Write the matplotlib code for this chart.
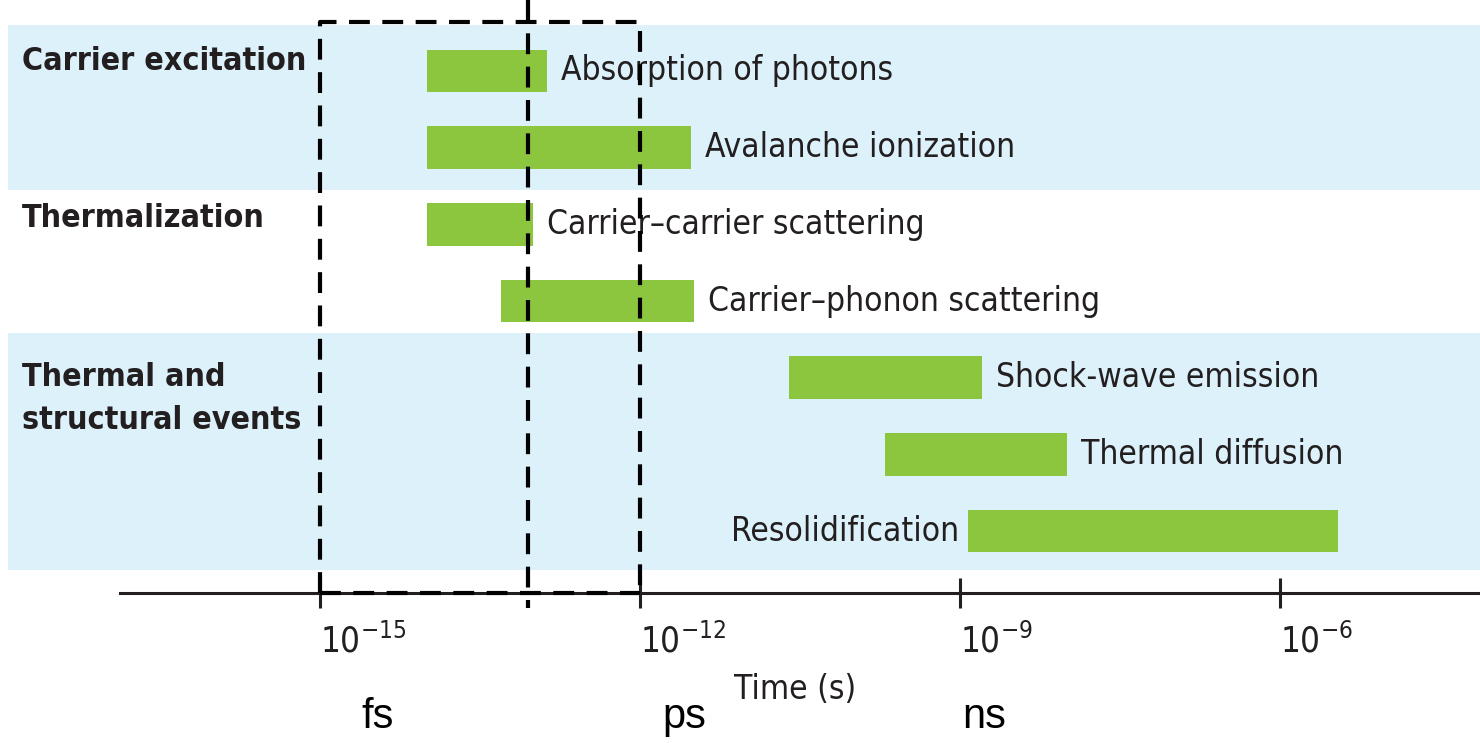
import numpy as np
import matplotlib
matplotlib.use('Agg')
import matplotlib.pyplot as plt

# data
processes = ['Absorption of photons', 'Avalanche ionization',
             'Carrier\u2013carrier scattering', 'Carrier\u2013phonon scattering',
             'Shock-wave emission', 'Thermal diffusion', 'Resolidification']
t_start = [1e-14, 1e-14, 1e-14, 5e-14, 2.5e-11, 2e-10, 1.2e-9]
t_end = [1.35e-13, 3e-12, 1e-13, 3.2e-12, 1.6e-9, 1e-8, 3.5e-6]
label_side = ['right', 'right', 'right', 'right', 'right', 'right', 'left']

groups = ['Carrier excitation', 'Thermalization', 'Thermal and\nstructural events']
group_rows = [-0.12, 1.92, 4.28]

tick_values = [1e-15, 1e-12, 1e-9, 1e-6]
unit_labels = ['fs', 'ps', 'ns']
unit_x = [10**-14.46, 10**-11.58, 10**-8.77]

plt.rcParams['font.family'] = ['DejaVu Sans']
plt.rcParams['font.stretch'] = 'condensed'
plt.rcParams['mathtext.fontset'] = 'custom'
plt.rcParams['mathtext.rm'] = 'DejaVu Sans:stretch=condensed'
plt.rcParams['mathtext.it'] = 'DejaVu Sans:style=oblique:stretch=condensed'
plt.rcParams['mathtext.bf'] = 'DejaVu Sans:weight=bold:stretch=condensed'

green = '#8cc63f'
band = '#dcf1fa'
ink = '#231f20'

fig = plt.figure(figsize=(14.8, 7.43), dpi=100)
ax = fig.add_axes([0, 0, 1, 1])
ax.set_xscale('log')
ax.set_xlim(1e-18, 10**-4.125)
ax.set_ylim(8.765, -0.926)

# background bands
ax.axhspan(-0.6, 1.55, xmin=8 / 1480, color=band, zorder=0, lw=0)
ax.axhspan(3.42, 6.51, xmin=8 / 1480, color=band, zorder=0, lw=0)

rows = np.arange(len(processes))
ax.barh(rows, np.array(t_end) - np.array(t_start), left=t_start,
        height=0.56, color=green, zorder=2)

for r, name, s, e, side in zip(rows, processes, t_start, t_end, label_side):
    if side == 'right':
        ax.annotate(name, (e, r), xytext=(10, 0), textcoords='offset points',
                    ha='left', va='center', fontsize=24, color=ink)
    else:
        ax.annotate(name, (s, r), xytext=(-7, 0), textcoords='offset points',
                    ha='right', va='center', fontsize=24, color=ink)

tr = ax.get_yaxis_transform()
for g, y in zip(groups, group_rows):
    ax.text(22 / 1480, y, g, transform=tr, ha='left', va='center',
            fontsize=23, fontweight='bold', color=ink, linespacing=1.5)

# dashed boxes
dash = dict(color='black', lw=3, dashes=(5, 3), zorder=3)
ax.plot([1e-15, 1e-15, 1e-12, 1e-12], [6.81, -0.64, -0.64, 6.81], **dash)
ax.plot([1e-15, 1e-12], [6.81, 6.81], **dash)
ax.plot([10**-13.05, 10**-13.05], [-0.926, 7.0], **dash)

# time axis
for side in ['top', 'left', 'right']:
    ax.spines[side].set_visible(False)
ax.spines['bottom'].set_position(('data', 6.81))
ax.spines['bottom'].set_bounds(10**-16.875, 10**-4.125)
ax.spines['bottom'].set_linewidth(2.2)
ax.spines['bottom'].set_color(ink)
ax.set_yticks([])
ax.set_xticks(tick_values)
ax.xaxis.set_minor_locator(matplotlib.ticker.NullLocator())
ax.tick_params(axis='x', direction='inout', length=21, width=2.2,
               color=ink, labelsize=25, labelcolor=ink, pad=11)
plt.setp(ax.get_xticklabels(), ha='left')

ax.text(10**-10.55, 8.07, 'Time (s)', ha='center', va='center',
        fontsize=24, color=ink)
for u, x in zip(unit_labels, unit_x):
    ax.text(x, 8.43, u, ha='center', va='center', fontsize=30,
            family=['Liberation Sans', 'DejaVu Sans'], stretch='normal',
            color='black')

fig.savefig('out.png', dpi=100)
